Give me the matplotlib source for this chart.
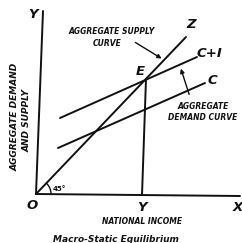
import numpy as np
import matplotlib.pyplot as plt
from matplotlib.patches import Arc

# diagram geometry, in picture units (x right, y down)
origin = (36, 194)
y_axis = ([36, 43], [194, 11])
x_axis = ([36, 240], [194, 196])
line_45 = ([36, 186], [194, 37])          # aggregate supply, OZ
line_ci = ([60, 197], [118, 57])          # C+I
line_c = ([58, 205], [148, 83])           # C
drop_line = ([146, 142], [79, 195])       # E down to Y

labels = ["Y", "O", "X", "Y", "Z", "E", "C+I", "C"]
label_pos = [(33, 14), (32, 205), (238, 207), (142, 207),
             (191, 24), (140, 71), (209, 53), (212, 80)]

ink = "#111111"

fig = plt.figure(figsize=(2.42, 2.43), dpi=100)
ax = fig.add_axes([0, 0, 1, 1])
ax.set_xlim(0, 242)
ax.set_ylim(243, 0)
ax.axis("off")

for xs, ys in [y_axis, x_axis, line_45, line_ci, line_c, drop_line]:
    ax.plot(xs, ys, color=ink, lw=1.4, solid_capstyle="round")

# 45 degree arc
ax.add_patch(Arc(origin, 30, 30, theta1=-45, theta2=0, color=ink, lw=1))
ax.text(53, 189, "45°", fontsize=5, fontweight="bold", color=ink, va="center")

for t, (x, y) in zip(labels, label_pos):
    ax.text(x, y, t, fontsize=9.5, fontweight="bold", style="italic",
            ha="center", va="center", color=ink)

# curve captions with arrows
ax.text(112, 32, "AGGREGATE SUPPLY", fontsize=5.5, fontweight="bold", style="italic",
        ha="center", va="center", color=ink)
ax.text(107, 43, "CURVE", fontsize=5.5, fontweight="bold", style="italic",
        ha="center", va="center", color=ink)
ax.annotate("", xy=(164, 60), xytext=(133, 41),
            arrowprops=dict(arrowstyle="-|>", color=ink, lw=1, mutation_scale=6))

ax.text(203, 106, "AGGREGATE", fontsize=5.5, fontweight="bold", style="italic",
        ha="center", va="center", color=ink)
ax.text(203, 117, "DEMAND CURVE", fontsize=5.5, fontweight="bold", style="italic",
        ha="center", va="center", color=ink)
ax.annotate("", xy=(180, 66), xytext=(190, 97),
            arrowprops=dict(arrowstyle="-|>", color=ink, lw=1, mutation_scale=6))

ax.text(15, 117, "AGGREGATE DEMAND", fontsize=6.5, fontweight="bold", style="italic",
        rotation=90, ha="center", va="center", color=ink)
ax.text(27, 120, "AND SUPPLY", fontsize=6.5, fontweight="bold", style="italic",
        rotation=90, ha="center", va="center", color=ink)

ax.text(142, 221, "NATIONAL INCOME", fontsize=5.5, fontweight="bold", style="italic",
        ha="center", va="center", color=ink)
ax.text(116, 239, "Macro-Static Equilibrium", fontsize=6.5, fontweight="bold",
        style="italic", ha="center", va="center", color=ink)

fig.savefig("out.png", dpi=100)
